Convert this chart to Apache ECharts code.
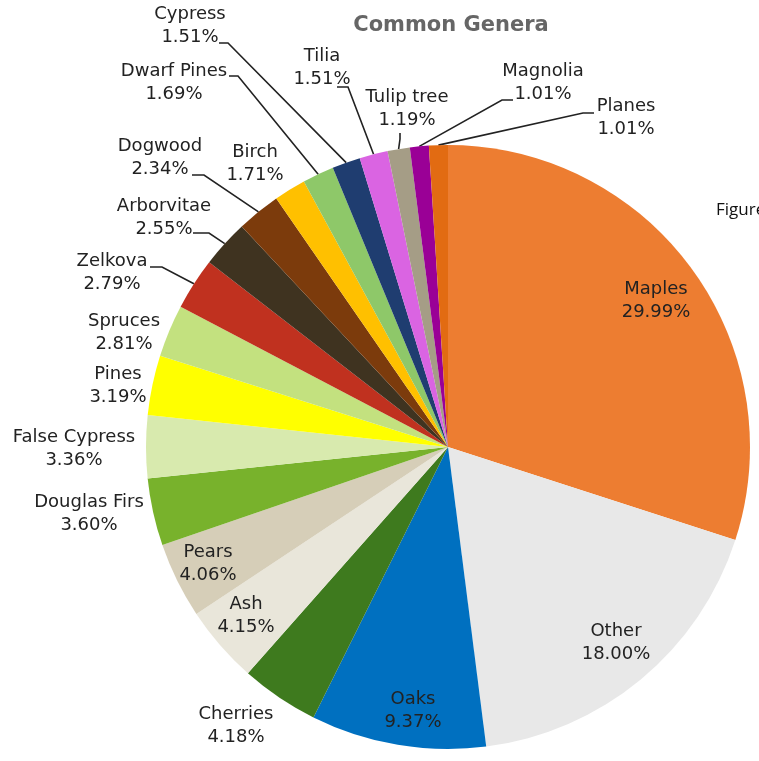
<!DOCTYPE html>
<html>
<head>
<meta charset="utf-8">
<script src="https://cdn.jsdelivr.net/npm/echarts@6/dist/echarts.min.js"></script>
<style>
  html, body { margin: 0; padding: 0; background: #ffffff; }
  #chart { width: 759px; height: 761px; }
</style>
</head>
<body>
<div id="chart"></div>
<script>
// Genera in drawing order, clockwise from 12 o'clock
const genera = ['Maples', 'Other', 'Oaks', 'Cherries', 'Ash', 'Pears', 'Douglas Firs',
  'False Cypress', 'Pines', 'Spruces', 'Zelkova', 'Arborvitae', 'Dogwood', 'Birch',
  'Dwarf Pines', 'Cypress', 'Tilia', 'Tulip tree', 'Magnolia', 'Planes'];

// Share of the tree population, percent
const shares = [29.99, 18.00, 9.37, 4.18, 4.15, 4.06, 3.60,
  3.36, 3.19, 2.81, 2.79, 2.55, 2.34, 1.71,
  1.69, 1.51, 1.51, 1.19, 1.01, 1.01];

const sliceColors = ['#ED7D31', '#E8E8E8', '#0070C0', '#3E7A1E', '#E9E6DA', '#D6CEB8', '#78B22C',
  '#D8EAAE', '#FFFF00', '#C3E17F', '#C0311F', '#3F3320', '#7C3B0C', '#FFC000',
  '#8EC869', '#1F3D70', '#DA64E2', '#A59D86', '#9A0096', '#E26B12'];

// Labels that carry a leader line back to their slice
const leaderLabels = ['Zelkova', 'Arborvitae', 'Dogwood', 'Dwarf Pines', 'Cypress',
  'Tilia', 'Tulip tree', 'Magnolia', 'Planes'];

// Label block placement: [centre x, top y]
const labelSpots = {
  'Maples': [656, 278], 'Other': [616, 620], 'Oaks': [413, 688],
  'Cherries': [236, 703], 'Ash': [246, 593], 'Pears': [208, 541],
  'Douglas Firs': [89, 491], 'False Cypress': [74, 426], 'Pines': [118, 363],
  'Spruces': [124, 310], 'Zelkova': [112, 250], 'Arborvitae': [164, 195],
  'Dogwood': [160, 135], 'Birch': [255, 141], 'Dwarf Pines': [174, 60],
  'Cypress': [190, 3], 'Tilia': [322, 45], 'Tulip tree': [407, 86],
  'Magnolia': [543, 60], 'Planes': [626, 95]
};

// Where each leader line leaves its label: [x, y], then its short elbow
const leaderTies = {
  'Zelkova': [[150, 267], [162, 267]],
  'Arborvitae': [[193, 233], [209, 233]],
  'Dogwood': [[192, 175], [204, 175]],
  'Dwarf Pines': [[229, 76], [238, 76]],
  'Cypress': [[219, 43], [228, 43]],
  'Tilia': [[337, 87], [348, 87]],
  'Tulip tree': [[400, 133], [400, 139]],
  'Magnolia': [[513, 100], [502, 100]],
  'Planes': [[594, 113], [583, 113]]
};

const PIE_CX = 448, PIE_CY = 447, PIE_R = 302;

// Mid-angle of every slice, radians clockwise from 12 o'clock
const total = shares.reduce((a, b) => a + b, 0);
const midAngles = [];
let run = 0;
shares.forEach(v => {
  midAngles.push((run + v / 2) / total * Math.PI * 2);
  run += v;
});

const pieData = genera.map((name, i) => ({
  name: name,
  value: shares[i],
  itemStyle: { color: sliceColors[i] },
  labelLine: { show: leaderLabels.indexOf(name) >= 0 }
}));

const chart = echarts.init(document.getElementById('chart'), null, { renderer: 'canvas' });

chart.setOption({
  backgroundColor: '#ffffff',
  animation: false,
  title: {
    text: 'Common Genera',
    left: 446,
    top: 10,
    textAlign: 'center',
    textStyle: { fontFamily: 'DejaVu Sans', fontSize: 21, fontWeight: 'bold', color: '#666666' }
  },
  graphic: [{
    type: 'text',
    left: 716,
    top: 202,
    style: { text: 'Figure', font: '17px "Open Sans"', fill: '#111111' }
  }],
  series: [{
    type: 'pie',
    center: [PIE_CX, PIE_CY],
    radius: PIE_R,
    startAngle: 90,
    clockwise: true,
    avoidLabelOverlap: false,
    data: pieData,
    itemStyle: { borderWidth: 0 },
    label: {
      show: true,
      position: 'outside',
      fontFamily: 'DejaVu Sans',
      fontSize: 18,
      lineHeight: 23,
      color: '#222222',
      formatter: p => p.name + '\n' + p.value.toFixed(2) + '%'
    },
    labelLine: {
      show: true,
      smooth: false,
      lineStyle: { color: '#222222', width: 1.6 }
    },
    labelLayout: function (params) {
      const name = genera[params.dataIndex];
      const spot = labelSpots[name];
      const out = { x: spot[0], y: spot[1], align: 'center', verticalAlign: 'top' };
      const tie = leaderTies[name];
      if (tie) {
        const a = midAngles[params.dataIndex];
        const edge = [PIE_CX + PIE_R * Math.sin(a), PIE_CY - PIE_R * Math.cos(a)];
        out.labelLinePoints = [edge, tie[1], tie[0]];
      }
      return out;
    }
  }]
});
</script>
</body>
</html>
